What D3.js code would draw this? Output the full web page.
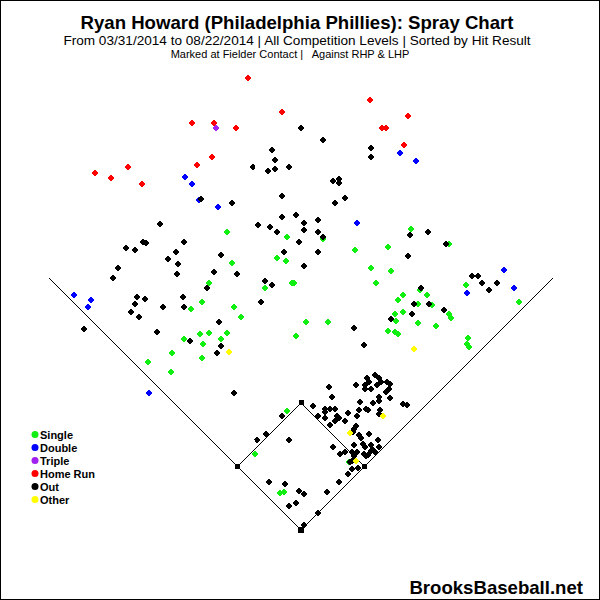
<!DOCTYPE html>
<html>
<head>
<meta charset="utf-8">
<script src="https://cdn.jsdelivr.net/npm/d3@7"></script>
<style>
  body { margin: 0; background: #fff; }
  text { font-family: "Liberation Sans", Arial, sans-serif; }
</style>
</head>
<body>
<script>

// hit locations, feet from home plate: [x (toward 1B is +), y (toward CF)]
var singles = [[-74,298],[-92,247],[-99,228],[-110,221],[-101,196],[-92,197],[-74,197],[-117,191],[-80,191],[-98,186],
  [-14,293],[22,291],[-24,272],[-15,269],[54,280],[87,283],[-69,267],[70,262],[90,259],[-36,242],[-9,247],[-7,247],
  [75,247],[-67,223],[-60,213],[5,208],[27,208],[87,199],[-5,194],[110,301],[148,286],[165,245],[218,228],[119,240],
  [102,235],[126,235],[97,230],[117,226],[131,225],[148,216],[150,212],[94,216],[102,218],[95,209],[117,207],[135,204],
  [94,198],[97,196],[167,192],[166,186],[168,183],[-129,177],[-153,168],[-99,172],[-130,158],[-14,119],[-46,76],
  [48,68],[-21,37],[-17,38]]

var doubles = [[-116,353],[-109,346],[-102,330],[-83,323],[99,377],[115,369],[56,307],[-227,235],[-210,230],
  [-213,223],[-152,137],[203,260],[166,237],[213,242]]

var triples = [[-85,402]]

var homeRuns = [[-53,452],[-19,418],[-109,407],[-87,407],[-65,402],[-89,373],[-104,365],[-206,357],[-190,352],
  [-173,363],[-159,346],[69,430],[107,414],[81,402],[85,402],[103,385]]

var outs = [[0,402],[-29,380],[-26,370],[-48,363],[-33,359],[-26,361],[-12,363],[-100,331],[-69,327],[-19,334],
  [-141,306],[-43,305],[-31,303],[-19,313],[-5,315],[22,390],[70,382],[70,373],[32,349],[38,351],[38,347],[44,332],
  [34,327],[17,310],[3,307],[-158,288],[-155,287],[-117,288],[-175,282],[-166,280],[-125,278],[-80,275],[-133,271],
  [-123,266],[-183,262],[-87,258],[-124,256],[-188,252],[-94,242],[-164,233],[-156,231],[-166,226],[-118,233],
  [-138,223],[-117,223],[-170,218],[-162,213],[-82,208],[-217,201],[-144,198],[-111,189],[-80,184],[-24,298],
  [3,300],[17,298],[22,293],[-2,288],[-17,278],[17,278],[3,264],[-64,256],[-36,249],[-29,245],[-40,228],[90,211],
  [53,202],[63,185],[109,295],[127,298],[145,286],[107,274],[171,254],[177,254],[181,247],[196,247],[188,240],
  [120,242],[113,226],[128,226],[143,220],[111,216],[-84,177],[-67,137],[-19,114],[-35,96],[-44,90],[-12,90],
  [74,155],[66,152],[68,148],[78,152],[80,148],[86,148],[89,146],[55,145],[64,145],[76,145],[28,143],[64,141],
  [70,141],[88,141],[85,138],[31,133],[78,133],[89,132],[59,128],[72,127],[78,129],[102,126],[106,125],[12,124],
  [24,121],[24,118],[29,121],[34,121],[58,120],[65,121],[67,120],[79,120],[78,116],[47,117],[17,114],[24,112],
  [36,114],[38,112],[35,110],[56,114],[44,109],[34,109],[29,105],[55,104],[53,101],[52,98],[58,95],[60,92],[68,96],
  [77,90],[62,86],[64,83],[70,85],[53,85],[32,83],[72,80],[74,78],[70,79],[78,83],[63,76],[65,74],[67,75],[44,78],
  [51,78],[56,78],[39,76],[53,74],[49,68],[51,69],[57,62],[51,61],[47,56],[38,48],[-32,48],[-16,46],[-2,39],[3,36],
  [26,38],[-12,24],[-5,27],[17,17],[3,5]]

var others = [[-72,178],[113,181],[82,114],[49,97],[55,69]]

var legendNames = ["Single", "Double", "Triple", "Home Run", "Out", "Other"]
var legendColors = ["#11ee11", "#0000ff", "#a020f0", "#ff0000", "#000000", "#ffff00"]

var titleText = "Ryan Howard (Philadelphia Phillies): Spray Chart"
var subtitleText = "From 03/31/2014 to 08/22/2014 | All Competition Levels | Sorted by Hit Result"
var noteText = "Marked at Fielder Contact |   Against RHP & LHP"

var width = 600, height = 600
var baseDist = 90, foulDist = 356

var svg = d3.select("body").append("svg")
    .attr("width", width)
    .attr("height", height)

// border
svg.append("rect")
    .attr("x", 0.5).attr("y", 0.5)
    .attr("width", width - 1).attr("height", height - 1)
    .attr("fill", "#fff")
    .attr("stroke", "#000")

// feet -> pixels, home plate at (301,530)
var x = d3.scaleLinear().domain([-301, 299]).range([0, 600])
var y = d3.scaleLinear().domain([0, 530]).range([530, 0])

var b = baseDist / Math.SQRT2, f = foulDist / Math.SQRT2
var field = svg.append("g").attr("shape-rendering", "crispEdges")

// foul lines
field.append("path")
    .attr("d", d3.line()([[x(-f), y(f)], [x(0), y(0)], [x(f), y(f)]]))
    .attr("fill", "none").attr("stroke", "#000")

// infield diamond
field.append("path")
    .attr("d", d3.line()([[x(0), y(0)], [x(b), y(b)], [x(0), y(2*b)], [x(-b), y(b)], [x(0), y(0)]]))
    .attr("fill", "none").attr("stroke", "#000")

var bases = [[0, 0, 6], [b, b, 5], [0, 2*b, 5], [-b, b, 5]]
field.selectAll("rect.base")
    .data(bases)
    .enter().append("rect")
      .attr("class", "base")
      .attr("x", function(d) { return Math.round(x(d[0]) - d[2]/2) })
      .attr("y", function(d) { return Math.round(y(d[1]) - d[2]/2) })
      .attr("width", function(d) { return d[2] })
      .attr("height", function(d) { return d[2] })
      .attr("fill", "#000")

// hits, drawn in the same order as the original
var groups = [
  {data: singles, color: legendColors[0]},
  {data: doubles, color: legendColors[1]},
  {data: triples, color: legendColors[2]},
  {data: homeRuns, color: legendColors[3]},
  {data: outs, color: legendColors[4]},
  {data: others, color: legendColors[5]}
]

svg.selectAll("g.hits")
    .data(groups)
    .enter().append("g")
      .attr("class", "hits")
      .attr("fill", function(d) { return d.color })
      .attr("shape-rendering", "crispEdges")
    .selectAll("circle")
    .data(function(d) { return d.data })
    .enter().append("circle")
      .attr("cx", function(d) { return x(d[0]) })
      .attr("cy", function(d) { return y(d[1]) })
      .attr("r", 2.6)

// titles
svg.append("text")
    .attr("x", 297).attr("y", 29)
    .attr("text-anchor", "middle")
    .attr("font-size", "18.6px")
    .attr("font-weight", "bold")
    .text(titleText)

svg.append("text")
    .attr("x", 297).attr("y", 45)
    .attr("text-anchor", "middle")
    .attr("font-size", "13.6px")
    .text(subtitleText)

svg.append("text")
    .attr("x", 290).attr("y", 58)
    .attr("text-anchor", "middle")
    .attr("font-size", "11px")
    .attr("xml:space", "preserve")
    .style("white-space", "pre")
    .text(noteText)

// legend
var legend = svg.append("g")
    .attr("transform", "translate(35,434.5)")

var item = legend.selectAll("g")
    .data(legendNames)
    .enter().append("g")
      .attr("transform", function(d, i) { return "translate(0," + (i * 13) + ")" })

item.append("circle")
    .attr("r", 3.5)
    .attr("fill", function(d, i) { return legendColors[i] })

item.append("text")
    .attr("x", 5).attr("y", 4)
    .attr("font-size", "11px")
    .attr("font-weight", "bold")
    .text(function(d) { return d })

// watermark
svg.append("text")
    .attr("x", 583).attr("y", 594)
    .attr("text-anchor", "end")
    .attr("font-size", "18.6px")
    .attr("font-weight", "bold")
    .text("BrooksBaseball.net")

</script>
</body>
</html>
